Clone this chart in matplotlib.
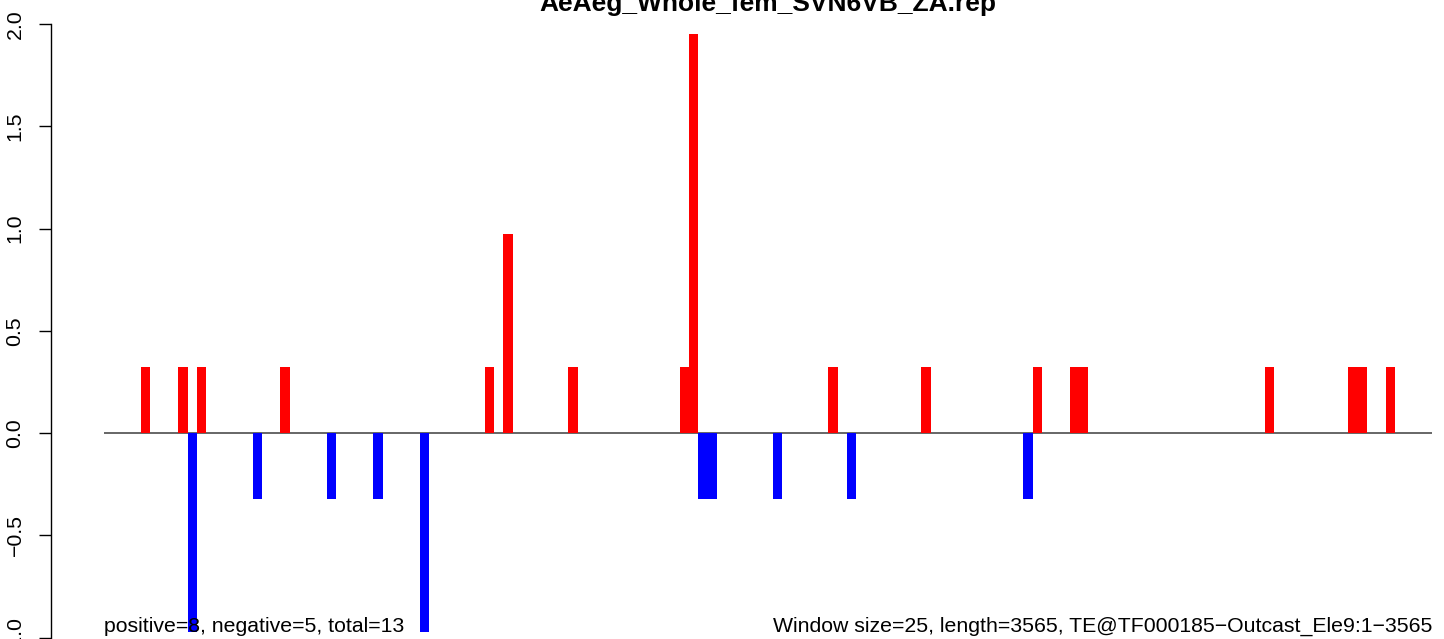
import numpy as np
import matplotlib
matplotlib.use("Agg")
import matplotlib.pyplot as plt

plt.rcParams['font.family'] = ['Liberation Sans', 'DejaVu Sans']

# Data: window index (window size 25 over 3565 bp) and signed score
n_windows = 143
pos_windows = [4, 8, 10, 19, 41, 43, 50, 62, 63, 78, 88, 100, 104, 105, 125, 134, 135, 138]
pos_values = [0.325, 0.325, 0.325, 0.325, 0.325, 0.975, 0.325, 0.325, 1.95, 0.325,
              0.325, 0.325, 0.325, 0.325, 0.325, 0.325, 0.325, 0.325]
neg_windows = [9, 16, 24, 29, 34, 64, 65, 72, 80, 99]
neg_values = [-0.975, -0.325, -0.325, -0.325, -0.975, -0.325, -0.325, -0.325, -0.325, -0.325]
y_ticks = [-1.0, -0.5, 0.0, 0.5, 1.0, 1.5, 2.0]

title = "AeAeg_Whole_fem_SVN6VB_ZA.rep"
left_note = "positive=8, negative=5, total=13"
right_note = "Window size=25, length=3565, TE@TF000185\u2212Outcast_Ele9:1\u22123565"

W, H = 1444, 639
fig = plt.figure(figsize=(W / 100, H / 100), dpi=100)

# plot region mapped so that x=0 lands at px 104 and x=143 at px 1432
pad = 0.04 * n_windows
x_lo, x_hi = -pad, n_windows + pad
px_per_x = (1432 - 104) / n_windows
left_px = 104 - pad * px_per_x
right_px = 1432 + pad * px_per_x
ax = fig.add_axes([left_px / W, 0, (right_px - left_px) / W, 1])

zero_px, unit_px = 433, 204.5
ax.set_xlim(x_lo, x_hi)
ax.set_ylim(-(H - zero_px) / unit_px, zero_px / unit_px)

ax.hlines(0, 0, n_windows, color='#666666', lw=1.4, zorder=1)
ax.bar(pos_windows, pos_values, width=1, align='edge', color='#ff0000', linewidth=0, zorder=2)
ax.bar(neg_windows, neg_values, width=1, align='edge', color='#0000ff', linewidth=0, zorder=2)

for s in ['top', 'right', 'bottom']:
    ax.spines[s].set_visible(False)
ax.spines['left'].set_bounds(-1, 2)
ax.spines['left'].set_linewidth(1.0)
ax.set_xticks([])
ax.set_yticks(y_ticks)
ax.set_yticklabels([f"{v:.1f}".replace('-', '\u2212') for v in y_ticks],
                   rotation=90, va='center', fontsize=15.3)
ax.tick_params(axis='y', length=9, width=1.0, pad=10)
ax.patch.set_alpha(0)

fig.text((left_px + right_px) / 2 / W, 1 - 11 / H, title, ha='center', va='baseline',
         fontsize=19, fontweight='bold')
ax.text(0, -(632 - zero_px) / unit_px, left_note, ha='left', va='baseline', fontsize=15.3)
ax.text(n_windows, -(632 - zero_px) / unit_px, right_note, ha='right', va='baseline', fontsize=15.3)

fig.savefig("out.png", dpi=100)
